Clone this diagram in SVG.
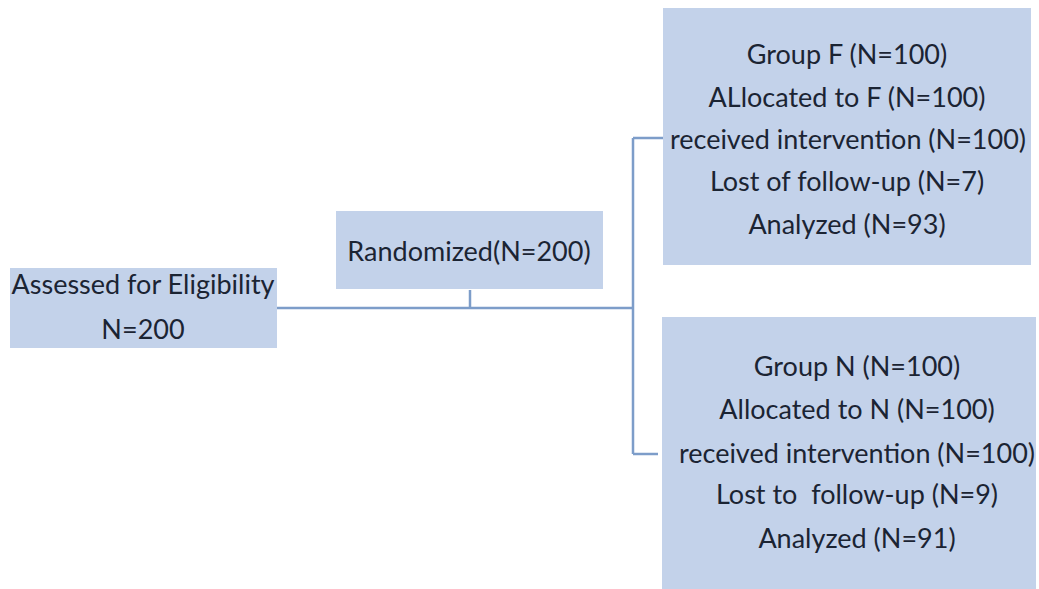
<svg xmlns="http://www.w3.org/2000/svg" width="1039" height="589" viewBox="0 0 1039 589">
<style>
.box{fill:#c3d2ea;}
.t{font-family:Lato,"Liberation Sans",sans-serif;font-size:27px;fill:#1b2433;text-anchor:middle;white-space:pre;}
.c{stroke:#7d9dc9;stroke-width:2.5;fill:none;}
</style>
<rect width="1039" height="589" fill="#ffffff"/>
<g id="connectors">
<path class="c" d="M277 308 H633"/>
<path class="c" d="M470 290 V308"/>
<path class="c" d="M633 138 V454"/>
<path class="c" d="M633 138 H667"/>
<path class="c" d="M633 454 H658"/>
</g>
<g id="assessed">
<rect class="box" x="10" y="268" width="267" height="80"/>
<text class="t" x="143" y="294">Assessed for Eligibility</text>
<text class="t" x="143" y="339">N=200</text>
</g>
<g id="randomized">
<rect class="box" x="336" y="211" width="267" height="78"/>
<text class="t" x="469" y="261">Randomized(N=200)</text>
</g>
<g id="groupF">
<rect class="box" x="663" y="8" width="368" height="257"/>
<text class="t" x="847" y="64">Group F (N=100)</text>
<text class="t" x="847" y="107">ALlocated to F (N=100)</text>
<text class="t" x="848" y="149">received intervention (N=100)</text>
<text class="t" x="847" y="191">Lost of follow-up (N=7)</text>
<text class="t" x="847" y="234">Analyzed (N=93)</text>
</g>
<g id="groupN">
<rect class="box" x="662" y="317" width="374" height="280"/>
<text class="t" x="857" y="376">Group N (N=100)</text>
<text class="t" x="857" y="419">Allocated to N (N=100)</text>
<text class="t" x="857" y="463" xml:space="preserve">received intervention (N=100)</text>
<text class="t" x="857" y="504" xml:space="preserve">Lost to  follow-up (N=9)</text>
<text class="t" x="857" y="548">Analyzed (N=91)</text>
</g>
</svg>
